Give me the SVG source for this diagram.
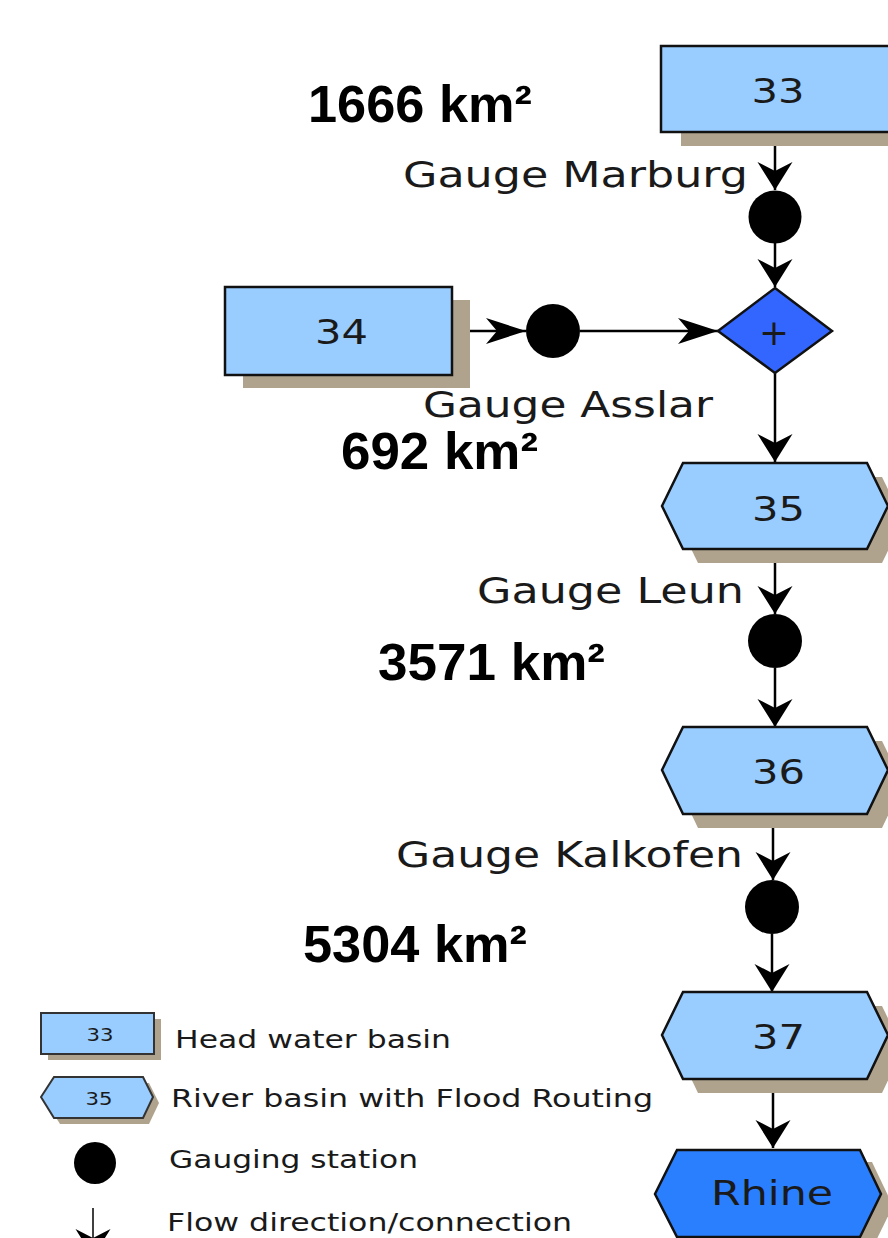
<svg xmlns="http://www.w3.org/2000/svg" width="888" height="1238" viewBox="0 0 888 1238">
<style>
  .shadow { fill: #b0a38e; }
  .basin { fill: #99ccff; stroke: #111; stroke-width: 2.5; }
  .mouth { fill: #2a7fff; stroke: #111; stroke-width: 2.5; }
  .junc { fill: #3366ff; stroke: #111; stroke-width: 2.5; }
  .gauge { fill: #000; }
  .lbl { font-family: "DejaVu Sans", Verdana, sans-serif; fill: #1a1a1a; }
  .num { font-size: 34px; text-anchor: middle; }
  .gtxt { font-size: 35px; }
  .area { font-family: "Liberation Sans", Arial, sans-serif; font-weight: bold; font-size: 52px; fill: #000; }
  .leg { font-size: 24px; }
  .conn { stroke: #000; stroke-width: 2.5; fill: none; }
  .lbasin { fill: #99ccff; stroke: #333; stroke-width: 2; }
</style>
<defs>
  <marker id="arrV" viewBox="-30 -20 32 40" refX="0" refY="0" markerWidth="32" markerHeight="40" markerUnits="userSpaceOnUse" orient="auto">
    <path d="M0,0 L-28,-17.5 L-19,0 L-28,17.5 Z" fill="#000"/>
  </marker>
  <marker id="arrH" viewBox="-44 -16 46 32" refX="0" refY="0" markerWidth="46" markerHeight="32" markerUnits="userSpaceOnUse" orient="auto">
    <path d="M0,0 L-40,-13 L-29,0 L-40,13 Z" fill="#000"/>
  </marker>
</defs>

<g id="connectors">
  <path class="conn" d="M775,146 L775,190" marker-end="url(#arrV)"/>
  <path class="conn" d="M775,243 L775,287" marker-end="url(#arrV)"/>
  <path class="conn" d="M452,331 L526,331" marker-end="url(#arrH)"/>
  <path class="conn" d="M580,331 L718,331" marker-end="url(#arrH)"/>
  <path class="conn" d="M775,373 L775,462" marker-end="url(#arrV)"/>
  <path class="conn" d="M775,549 L775,614" marker-end="url(#arrV)"/>
  <path class="conn" d="M775,668 L775,727" marker-end="url(#arrV)"/>
  <path class="conn" d="M773,814 L773,880" marker-end="url(#arrV)"/>
  <path class="conn" d="M772,934 L772,992" marker-end="url(#arrV)"/>
  <path class="conn" d="M773,1079 L773,1148" marker-end="url(#arrV)"/>
</g>

<g id="n33">
  <rect class="shadow" x="681" y="60" width="232" height="86"/>
  <rect class="basin" x="661" y="46" width="232" height="86"/>
  <text class="lbl num" x="778" y="103" textLength="53" lengthAdjust="spacingAndGlyphs">33</text>
</g>

<g id="gMarburg">
  <circle class="gauge" cx="775" cy="217" r="26.5"/>
  <text class="lbl gtxt" x="403" y="187" textLength="345" lengthAdjust="spacingAndGlyphs">Gauge Marburg</text>
</g>

<g id="n34">
  <rect class="shadow" x="243" y="300" width="227" height="88"/>
  <rect class="basin" x="225" y="287" width="227" height="88"/>
  <text class="lbl num" x="341.5" y="344" textLength="53" lengthAdjust="spacingAndGlyphs">34</text>
</g>

<g id="gAsslar">
  <circle class="gauge" cx="553" cy="331" r="27"/>
  <text class="lbl gtxt" x="423" y="417" textLength="290" lengthAdjust="spacingAndGlyphs">Gauge Asslar</text>
</g>

<g id="junction">
  <polygon class="junc" points="775,288 832,331 775,373 718,331"/>
  <text class="lbl" x="774" y="345" font-size="36" text-anchor="middle" textLength="30" lengthAdjust="spacingAndGlyphs">+</text>
</g>

<g id="n35">
  <polygon class="shadow" points="677,520 698,477 882,477 903,520 882,563 698,563"/>
  <polygon class="basin" points="662,506 683,463 867,463 888,506 867,549 683,549"/>
  <text class="lbl num" x="778.5" y="521" textLength="53" lengthAdjust="spacingAndGlyphs">35</text>
</g>

<g id="gLeun">
  <circle class="gauge" cx="775" cy="641" r="27"/>
  <text class="lbl gtxt" x="477" y="603" textLength="267" lengthAdjust="spacingAndGlyphs">Gauge Leun</text>
</g>

<g id="n36">
  <polygon class="shadow" points="677,784 698,741 882,741 903,784 882,828 698,828"/>
  <polygon class="basin" points="662,770 683,727 867,727 888,770 867,814 683,814"/>
  <text class="lbl num" x="778.5" y="784" textLength="53" lengthAdjust="spacingAndGlyphs">36</text>
</g>

<g id="gKalkofen">
  <circle class="gauge" cx="772" cy="907" r="27"/>
  <text class="lbl gtxt" x="396" y="867" textLength="347" lengthAdjust="spacingAndGlyphs">Gauge Kalkofen</text>
</g>

<g id="n37">
  <polygon class="shadow" points="677,1049 698,1006 882,1006 903,1049 882,1093 698,1093"/>
  <polygon class="basin" points="662,1035 683,992 867,992 888,1035 867,1079 683,1079"/>
  <text class="lbl num" x="778.5" y="1049" textLength="53" lengthAdjust="spacingAndGlyphs">37</text>
</g>

<g id="rhine">
  <polygon class="shadow" points="667,1206 689,1162 872,1162 893,1206 872,1249 689,1249"/>
  <polygon class="mouth" points="655,1194 677,1150 860,1150 881,1194 860,1237 677,1237"/>
  <text class="lbl" x="772" y="1205" font-size="33" text-anchor="middle" textLength="122" lengthAdjust="spacingAndGlyphs">Rhine</text>
</g>

<g id="areas">
  <text class="area" x="308" y="122" textLength="224" lengthAdjust="spacingAndGlyphs">1666 km²</text>
  <text class="area" x="341" y="469" textLength="197" lengthAdjust="spacingAndGlyphs">692 km²</text>
  <text class="area" x="378" y="680" textLength="227" lengthAdjust="spacingAndGlyphs">3571 km²</text>
  <text class="area" x="303" y="962" textLength="224" lengthAdjust="spacingAndGlyphs">5304 km²</text>
</g>

<g id="legend">
  <rect class="shadow" x="48" y="1019" width="113" height="41"/>
  <rect class="lbasin" x="41" y="1013" width="113" height="41"/>
  <text class="lbl" x="100" y="1041" font-size="17" text-anchor="middle" textLength="27" lengthAdjust="spacingAndGlyphs">33</text>
  <text class="lbl leg" x="175" y="1048" textLength="276" lengthAdjust="spacingAndGlyphs">Head water basin</text>

  <polygon class="shadow" points="47,1103 60,1083 149,1083 159,1103 149,1124 60,1124"/>
  <polygon class="lbasin" points="41,1097 54,1077 143,1077 153,1097 143,1118 54,1118"/>
  <text class="lbl" x="99" y="1105" font-size="17" text-anchor="middle" textLength="27" lengthAdjust="spacingAndGlyphs">35</text>
  <text class="lbl leg" x="171" y="1107" textLength="482" lengthAdjust="spacingAndGlyphs">River basin with Flood Routing</text>

  <circle class="gauge" cx="95" cy="1163" r="21"/>
  <text class="lbl leg" x="169" y="1168" textLength="249" lengthAdjust="spacingAndGlyphs">Gauging station</text>

  <path d="M93,1208 L93,1257" stroke="#000" stroke-width="1.5" fill="none" marker-end="url(#arrV)"/>
  <text class="lbl leg" x="167" y="1231" textLength="405" lengthAdjust="spacingAndGlyphs">Flow direction/connection</text>
</g>
</svg>
